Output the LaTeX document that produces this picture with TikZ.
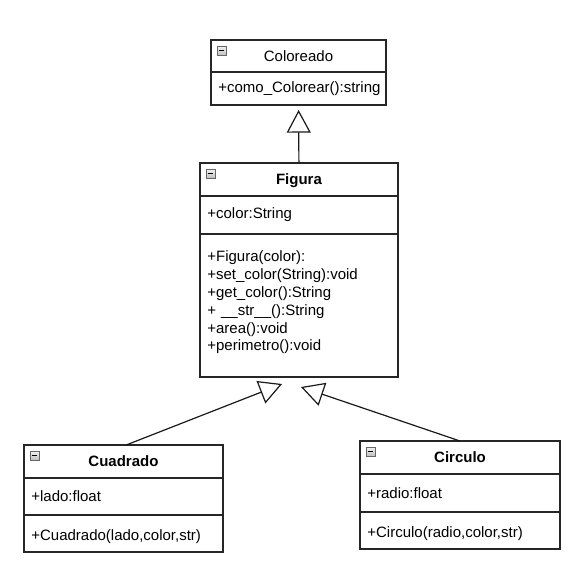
\documentclass[tikz,border=0pt]{standalone}
\usepackage{fontspec}
\setmainfont{Liberation Sans}
\usetikzlibrary{positioning,arrows.meta,calc}

\begin{document}
\begin{tikzpicture}[
  x=0.75pt, y=-0.75pt,
  font=\fontsize{11.25pt}{13.4pt}\selectfont,
  node distance=0pt,
  head/.style ={draw=black!85, line width=0.9pt, minimum width=#1, minimum height=24.75pt, inner sep=0pt, outer sep=0pt},
  comp/.style ={draw=black!85, line width=0.9pt, text width=#1, align=left, inner xsep=5.5pt, inner ysep=0pt, outer sep=0pt, minimum height=27.75pt},
  low/.style  ={text height=13.5pt, text depth=3pt},
  icon/.style ={draw=gray!80!black, line width=0.5pt, inner sep=0pt, minimum size=6.75pt, top color=gray!10, bottom color=gray!50,
                path picture={\draw[line width=0.9pt, black] ([xshift=1.3pt]path picture bounding box.west) -- ([xshift=-1.3pt]path picture bounding box.east);}},
  inh/.style  ={-{Triangle[open, length=17pt, width=18pt]}, line width=0.9pt, draw=black!90}
]
\useasboundingbox (0,0) rectangle (581,577);

% ---- interface: Coloreado ----
\node[head=131.25pt, minimum height=24pt] (colHead) at (298.5,56) {Coloreado};
\node[comp=120.25pt, minimum height=24.75pt, below=of colHead] (colOps) {+como\_Colorear():string};
\node[icon] (colIcon) at ($(colHead.north west)+(10.5,10.5)$) {};

% ---- base class: Figura ----
\node[head=148.5pt, text height=10.5pt] (figHead) at (299,179.5) {\textbf{Figura}};
\node[comp=137.5pt, minimum height=28.5pt, below=of figHead] (figAttr) {+color:String};
\node[comp=137.5pt, minimum height=107.25pt, text depth=74pt, below=of figAttr] (figOps)
  {+Figura(color):\\
   +set\_color(String):void\\
   +get\_color():String\\
   + \_\_str\_\_():String\\
   +area():void\\
   +perimetro():void};
\node[icon] (figIcon) at ($(figHead.north west)+(10.5,10.5)$) {};

% ---- subclasses ----
\node[head=149.25pt] (cuaHead) at (123.5,461.5) {\textbf{Cuadrado}};
\node[comp=138.25pt, below=of cuaHead] (cuaAttr) {+lado:float};
\node[comp=138.25pt, low, below=of cuaAttr] (cuaOps) {+Cuadrado(lado,color,str)};
\node[icon] (cuaIcon) at ($(cuaHead.north west)+(10.5,10.5)$) {};

\node[head=150pt] (cirHead) at (460,457.5) {\textbf{Circulo}};
\node[comp=139pt, minimum height=28.5pt, below=of cirHead] (cirAttr) {+radio:float};
\node[comp=139pt, low, below=of cirAttr] (cirOps) {+Circulo(radio,color,str)};
\node[icon] (cirIcon) at ($(cirHead.north west)+(10.5,10.5)$) {};

% ---- inheritance ----
\draw[inh, shorten >=3.75pt] (figHead) -- (colOps);
\draw[inh] ([xshift=2pt]cuaHead.north) -- ($(figOps.south)+(-17,7)$);
\draw[inh] (cirHead.north) -- ($(figOps.south)+(2,10)$);

\end{tikzpicture}
\end{document}
